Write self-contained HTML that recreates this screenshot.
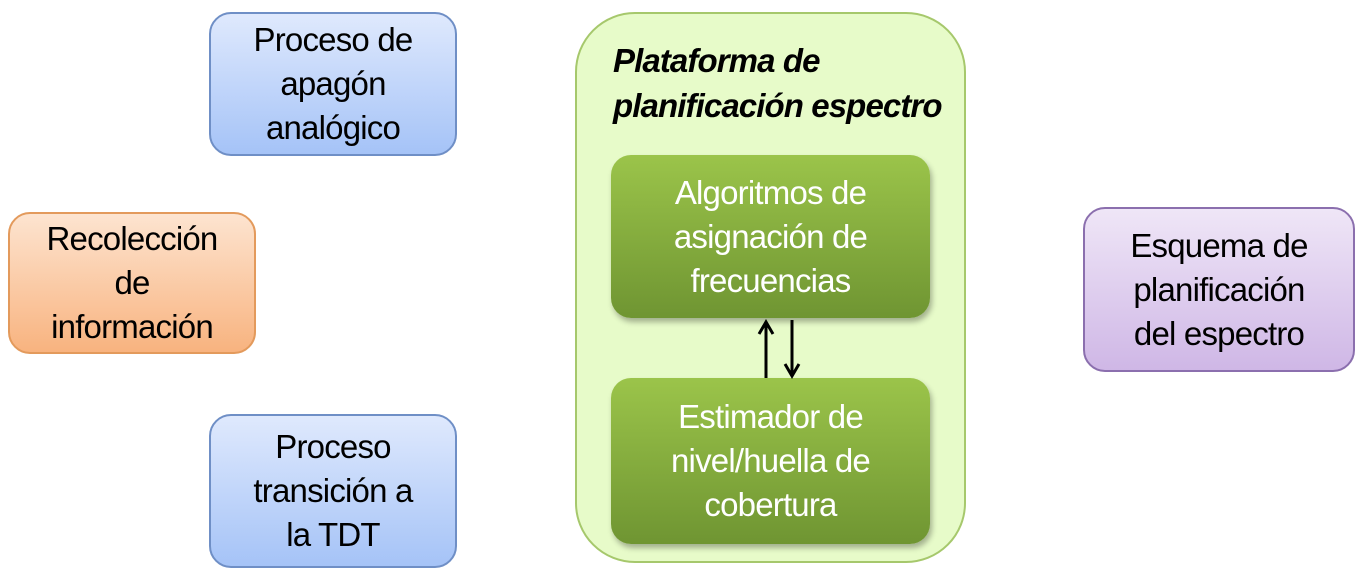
<!DOCTYPE html>
<html><head><meta charset="utf-8"><style>
body{margin:0;width:1363px;height:585px;background:#fff;position:relative;overflow:hidden;font-family:"Liberation Sans",sans-serif;}
.b{position:absolute;box-sizing:border-box;border-radius:22px;display:flex;align-items:center;justify-content:center;text-align:center;font-size:33px;letter-spacing:-0.8px;line-height:44px;color:#000;}
.blue{background:linear-gradient(#dfe9fd,#a5c3f7);border:2px solid #6f8fc6;}
.orange{background:linear-gradient(#fde4d0,#f8b37f);border:2px solid #e39a5c;}
.purple{background:linear-gradient(#efe6f7,#cfb7e6);border:2px solid #8b6fae;}
.cont{position:absolute;left:575px;top:12px;width:391px;height:551px;box-sizing:border-box;border:2px solid #a6c86c;border-radius:60px;background:#e7fbc9;}
.g{background:linear-gradient(#9bc44a,#6f9532);color:#fff;border:none;border-radius:20px;box-shadow:2px 4px 6px rgba(0,0,0,.3);}
.t{position:absolute;left:613px;top:38px;font-family:"Liberation Sans",sans-serif;font-weight:bold;font-style:italic;font-size:33px;line-height:45px;letter-spacing:-0.9px;}
</style></head><body>
<div class="b blue" style="left:209px;top:12px;width:248px;height:144px;">Proceso de<br>apagón<br>analógico</div>
<div class="b orange" style="left:8px;top:212px;width:248px;height:142px;">Recolección<br>de<br>información</div>
<div class="b blue" style="left:209px;top:414px;width:248px;height:154px;">Proceso<br>transición a<br>la TDT</div>
<div class="cont"></div>
<div class="t">Plataforma de<br>planificación espectro</div>
<div class="b g" style="left:611px;top:155px;width:319px;height:163px;">Algoritmos de<br>asignación de<br>frecuencias</div>
<div class="b g" style="left:611px;top:378px;width:319px;height:166px;">Estimador de<br>nivel/huella de<br>cobertura</div>
<svg style="position:absolute;left:0;top:0" width="1363" height="585">
<line x1="766" y1="378" x2="766" y2="324" stroke="#000" stroke-width="3"/>
<polyline points="759,334 766,322 773,334" fill="none" stroke="#000" stroke-width="3"/>
<line x1="792" y1="320" x2="792" y2="374" stroke="#000" stroke-width="3"/>
<polyline points="785,364 792,376 799,364" fill="none" stroke="#000" stroke-width="3"/>
</svg>
<div class="b purple" style="left:1083px;top:207px;width:272px;height:165px;">Esquema de<br>planificación<br>del espectro</div>
</body></html>
